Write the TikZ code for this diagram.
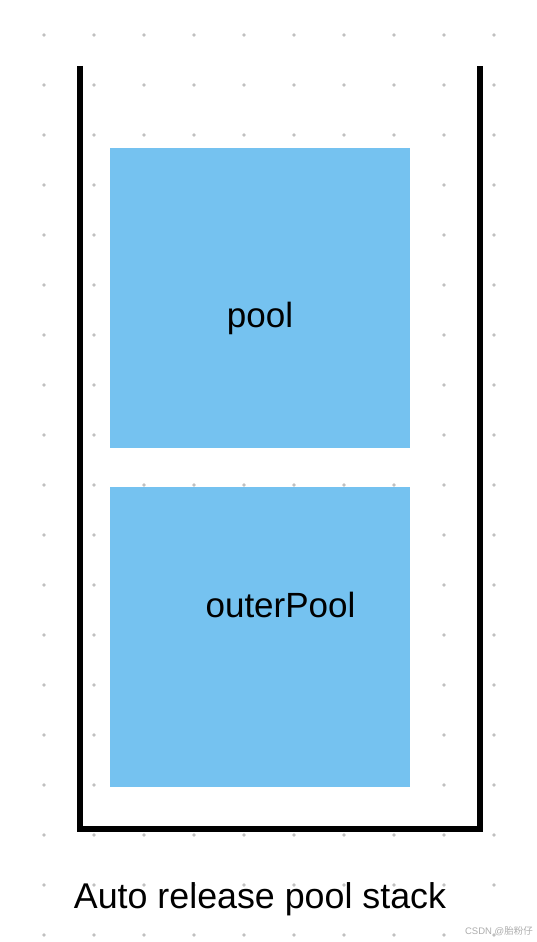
\documentclass[tikz,border=0pt]{standalone}
\usepackage{fontspec}
\setmainfont{Liberation Sans}
\newfontfamily\cjkfont{Noto Sans CJK SC}
\definecolor{poolblue}{HTML}{75C2F0}
\definecolor{dotgrey}{HTML}{C0C0C0}
\begin{document}
\begin{tikzpicture}[x=1pt,y=-1pt,
  poolbox/.style={fill=poolblue,draw=none,minimum width=300pt,minimum height=300pt,inner sep=0pt,anchor=north west},
  label/.style={anchor=base,inner sep=0pt,font=\fontsize{35}{42}\selectfont},
  wall/.style={line width=6pt,miter limit=10}]
\useasboundingbox (0,0) rectangle (536,942);
\fill[white] (0,0) rectangle (536,942);
\foreach \i in {0,...,9}{
  \foreach \j in {0,...,18}{
    \fill[dotgrey] (44+50*\i,35+50*\j) circle (1.9pt);
  }
}
\node[poolbox] (pool) at (110,148) {};
\node[poolbox] (outer) at (110,487) {};
\node[label] (pooltext) at (260,327) {pool};
\node[label] (outertext) at (280.5,617) {outerPool};
\coordinate (tl) at (80,66);
\coordinate (bl) at (80,829);
\coordinate (br) at (480,829);
\coordinate (tr) at (480,66);
\draw[wall] (tl) -- (bl) -- (br) -- (tr);
\node[label,font=\fontsize{35.8}{43}\selectfont] (caption) at (260,908) {Auto release pool stack};
\node[anchor=base east,inner sep=0pt,text=dotgrey!90!black,font=\fontsize{9.5}{11}\selectfont] (wm) at (533,934) {CSDN @{\cjkfont 胎粉仔}};
\end{tikzpicture}
\end{document}
